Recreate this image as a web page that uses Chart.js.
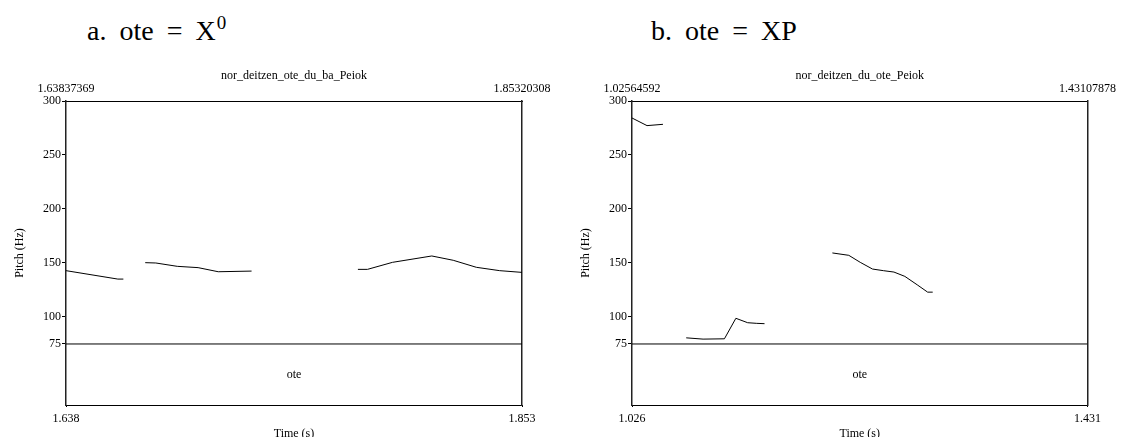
<!DOCTYPE html>
<html lang="en">
<head>
  <meta charset="UTF-8">
  <title>Pitch tracks: ote</title>
  <script src="https://cdn.jsdelivr.net/npm/chart.js"></script>
  <style>
    html, body {
      margin: 0;
      padding: 0;
      background: #fff;
      width: 1121px;
      height: 437px;
      overflow: hidden;
    }
    .heading {
      position: absolute;
      top: 17px;
      font-family: "Liberation Serif", "Times New Roman", serif;
      font-size: 28px;
      line-height: 28px;
      word-spacing: 6px;
      color: #000;
      white-space: nowrap;
    }
    .heading sup {
      font-size: 19px;
      vertical-align: baseline;
      position: relative;
      top: -11px;
      margin-left: 1px;
    }
    canvas {
      position: absolute;
      top: 0;
    }
  </style>
</head>
<body>
  <div class="heading" style="left: 87px;">a. ote = X<sup>0</sup></div>
  <div class="heading" style="left: 651px;">b. ote = XP</div>

  <canvas id="leftChart" width="560" height="450" style="left: 0;"></canvas>
  <canvas id="rightChart" width="561" height="450" style="left: 560px;"></canvas>

<script>
  // shared axis stuff
  const pitchTicks = [75, 100, 150, 200, 250, 300];
  const pitchMin = 18.5;
  const pitchMax = 300;
  const tierBoundary = 75;
  const tierLabel = 'ote';

  // panel a
  const leftTitle = 'nor_deitzen_ote_du_ba_Peiok';
  const leftRange = [1.63837369, 1.85320308];
  const leftTopLabels = ['1.63837369', '1.85320308'];
  const leftBottomLabels = ['1.638', '1.853'];
  const leftSeg1Time = [1.6384, 1.6628, 1.6654];
  const leftSeg1Pitch = [142.9, 135.1, 135.1];
  const leftSeg2Time = [1.6757, 1.6807, 1.6908, 1.7006, 1.7101, 1.7258];
  const leftSeg2Pitch = [150.3, 150.0, 146.9, 145.7, 141.9, 142.5];
  const leftSeg3Time = [1.7759, 1.7804, 1.7922, 1.8107, 1.8208, 1.8317, 1.8427, 1.8532];
  const leftSeg3Pitch = [144.1, 144.1, 150.6, 156.5, 152.5, 146.0, 142.9, 141.3];

  // panel b
  const rightTitle = 'nor_deitzen_du_ote_Peiok';
  const rightRange = [1.02564592, 1.43107878];
  const rightTopLabels = ['1.02564592', '1.43107878'];
  const rightBottomLabels = ['1.026', '1.431'];
  const rightSeg1Time = [1.0256, 1.0390, 1.0532];
  const rightSeg1Pitch = [284.3, 277.2, 278.4];
  const rightSeg2Time = [1.0739, 1.0889, 1.1079, 1.1181, 1.1286, 1.1367, 1.1436];
  const rightSeg2Pitch = [80.7, 79.5, 79.8, 98.8, 94.7, 94.1, 93.8];
  const rightSeg3Time = [1.2040, 1.2186, 1.2288, 1.2397, 1.2494, 1.2588, 1.2685, 1.2795, 1.2888, 1.2933];
  const rightSeg3Pitch = [159.3, 157.1, 150.6, 144.4, 142.9, 141.6, 137.6, 129.8, 123.0, 123.0];

  Chart.defaults.font.family = '"Liberation Serif", "Times New Roman", serif';
  Chart.defaults.font.size = 12;
  Chart.defaults.color = '#000';

  function toPoints(times, pitches) {
    return times.map((t, i) => ({ x: t, y: pitches[i] }));
  }

  function lineSet(data) {
    return {
      data: data,
      borderColor: '#000',
      borderWidth: 1,
      pointRadius: 0,
      tension: 0,
      fill: false
    };
  }

  // "ote" text in the tier under the 75 line
  const tierText = {
    id: 'tierText',
    afterDatasetsDraw(chart) {
      const { ctx, scales: { x, y } } = chart;
      ctx.save();
      ctx.font = '12px "Liberation Serif", "Times New Roman", serif';
      ctx.fillStyle = '#000';
      ctx.textAlign = 'center';
      ctx.textBaseline = 'middle';
      ctx.fillText(tierLabel, x.getPixelForValue((x.min + x.max) / 2), y.getPixelForValue((pitchMin + tierBoundary) / 2));
      ctx.restore();
    }
  };

  function makePanel(id, title, range, topLabels, bottomLabels, segments, box) {
    const ctx = document.getElementById(id).getContext('2d');
    const datasets = segments.map(s => lineSet(toPoints(s[0], s[1])));
    datasets.push(lineSet(toPoints(range, [tierBoundary, tierBoundary])));

    const endTicks = s => { s.ticks = range.map(v => ({ value: v })); };

    return new Chart(ctx, {
      type: 'line',
      data: { datasets: datasets },
      plugins: [tierText],
      options: {
        responsive: false,
        animation: false,
        devicePixelRatio: 1,
        layout: { padding: 0 },
        plugins: { legend: { display: false }, tooltip: { enabled: false } },
        scales: {
          x: {
            type: 'linear',
            position: 'bottom',
            min: range[0],
            max: range[1],
            afterBuildTicks: endTicks,
            afterFit: s => { s.height = box.bottom; },
            ticks: {
              autoSkip: false,
              maxRotation: 0,
              padding: 5,
              callback: (v, i) => bottomLabels[i]
            },
            grid: { drawOnChartArea: false, tickLength: 2, color: '#000' },
            border: { color: '#000' },
            title: { display: true, text: 'Time (s)', padding: { top: 0, bottom: 9 } }
          },
          x2: {
            type: 'linear',
            position: 'top',
            min: range[0],
            max: range[1],
            afterBuildTicks: endTicks,
            afterFit: s => { s.height = box.top; },
            ticks: {
              autoSkip: false,
              maxRotation: 0,
              padding: 5,
              callback: (v, i) => topLabels[i]
            },
            grid: { display: false, drawTicks: false },
            border: { color: '#000' },
            title: { display: true, text: title, padding: { top: 69, bottom: 0 } }
          },
          y: {
            type: 'linear',
            position: 'left',
            min: pitchMin,
            max: pitchMax,
            afterBuildTicks: s => { s.ticks = pitchTicks.map(v => ({ value: v })); },
            afterFit: s => { s.width = box.left; },
            ticks: { autoSkip: false, padding: 1 },
            grid: { drawOnChartArea: false, tickLength: 4, color: '#000' },
            border: { color: '#222', width: 1.5 },
            title: { display: true, text: 'Pitch (Hz)', padding: { top: box.titleX, bottom: 0 } }
          },
          y2: {
            type: 'linear',
            position: 'right',
            min: pitchMin,
            max: pitchMax,
            afterFit: s => { s.width = box.right; },
            ticks: { display: false },
            grid: { display: false, drawTicks: false },
            border: { color: '#222', width: 1.5 }
          }
        }
      }
    });
  }

  makePanel('leftChart', leftTitle, leftRange, leftTopLabels, leftBottomLabels,
    [[leftSeg1Time, leftSeg1Pitch], [leftSeg2Time, leftSeg2Pitch], [leftSeg3Time, leftSeg3Pitch]],
    { left: 66, right: 38, top: 101, bottom: 45, titleX: 13 });

  makePanel('rightChart', rightTitle, rightRange, rightTopLabels, rightBottomLabels,
    [[rightSeg1Time, rightSeg1Pitch], [rightSeg2Time, rightSeg2Pitch], [rightSeg3Time, rightSeg3Pitch]],
    { left: 72, right: 33, top: 101, bottom: 45, titleX: 19 });
</script>
</body>
</html>
